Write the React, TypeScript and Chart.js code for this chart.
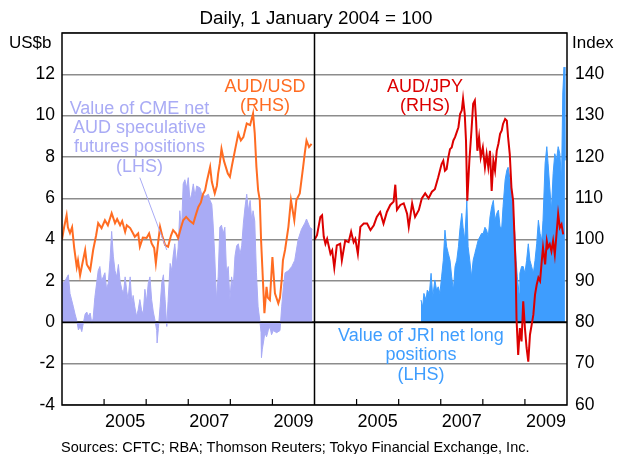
import React, { useEffect, useRef } from "react";
import { Chart, registerables } from "chart.js";

Chart.register(...registerables);

// ---------- DATA ----------
// AUD/USD index (RHS), 1 Jan 2004 = 100
const audUsdDates = [
  2004.00, 2004.05, 2004.11, 2004.14, 2004.19, 2004.24, 2004.29, 2004.35, 2004.38, 2004.43,
  2004.48, 2004.55, 2004.59, 2004.67, 2004.74, 2004.81, 2004.86, 2004.94, 2005.02, 2005.09,
  2005.18, 2005.26, 2005.31, 2005.38, 2005.43, 2005.50, 2005.54, 2005.62, 2005.69, 2005.73,
  2005.81, 2005.85, 2005.92, 2006.01, 2006.07, 2006.13, 2006.19, 2006.23, 2006.28, 2006.33,
  2006.38, 2006.45, 2006.52, 2006.59, 2006.64, 2006.71, 2006.76, 2006.83, 2006.88, 2006.95,
  2007.04, 2007.12, 2007.18, 2007.24, 2007.30, 2007.35, 2007.40, 2007.44, 2007.52, 2007.56,
  2007.63, 2007.68, 2007.71, 2007.75, 2007.79, 2007.85, 2007.91, 2007.94, 2007.99, 2008.04,
  2008.11, 2008.19, 2008.25, 2008.31, 2008.39, 2008.47, 2008.54, 2008.58, 2008.62, 2008.66,
  2008.70, 2008.73, 2008.76, 2008.81, 2008.86, 2008.89, 2008.94, 2009.00, 2009.06, 2009.14,
  2009.18, 2009.22, 2009.25, 2009.30, 2009.38, 2009.44, 2009.52, 2009.57, 2009.65, 2009.73,
  2009.77, 2009.81, 2009.87, 2009.93,
];
const audUsdIndex = [
  100, 103, 105.9, 103, 101.6, 103, 98, 93.4, 95, 91.4,
  94, 97.5, 94, 92.6, 97.5, 101, 104, 102.8, 104.7, 103.5,
  106.4, 104, 105, 103.5, 104.5, 101.9, 103.5, 102.8, 101.5, 100.7,
  101.5, 98.3, 100.5, 100.4, 101.5, 99.1, 98, 94.3, 99, 103.1,
  101, 98.7, 98.3, 101, 102.3, 101.5, 100.4, 103, 104.7, 105.5,
  104.5, 103.9, 106, 107.9, 109, 111, 111.9, 114, 117.6, 114,
  111.2, 113, 116, 118.5, 122, 119, 117, 116, 115.2, 118,
  121.6, 125.7, 124, 124.8, 128.1, 127.7, 130.5, 125.7, 117.6, 112,
  109.6, 100, 93.4, 82.2, 88.6, 86, 85.4, 95.8, 87, 84.6,
  86, 90.2, 95, 97.5, 103.1, 109.6, 104.7, 109.6, 111.2, 117.6,
  121, 124, 122.4, 123.2,
];

// AUD/JPY index (RHS), 1 Jan 2004 = 100
const audJpyDates = [
  2004.00, 2004.06, 2004.14, 2004.18, 2004.22, 2004.26, 2004.30, 2004.38, 2004.42, 2004.47,
  2004.53, 2004.61, 2004.65, 2004.69, 2004.73, 2004.81, 2004.87, 2004.93, 2004.97, 2005.03,
  2005.09, 2005.17, 2005.25, 2005.33, 2005.41, 2005.48, 2005.56, 2005.64, 2005.72, 2005.80,
  2005.88, 2005.92, 2005.96, 2006.04, 2006.12, 2006.20, 2006.24, 2006.32, 2006.39, 2006.48,
  2006.55, 2006.63, 2006.71, 2006.79, 2006.86, 2006.94, 2007.02, 2007.06, 2007.10, 2007.14,
  2007.18, 2007.22, 2007.26, 2007.30, 2007.34, 2007.42, 2007.46, 2007.50, 2007.53, 2007.57,
  2007.60, 2007.63, 2007.68, 2007.73, 2007.77, 2007.81, 2007.84, 2007.87, 2007.91, 2007.95,
  2008.00, 2008.05, 2008.09, 2008.13, 2008.17, 2008.21, 2008.25, 2008.29, 2008.33, 2008.37,
  2008.41, 2008.45, 2008.48, 2008.53, 2008.57, 2008.60, 2008.64, 2008.68, 2008.72, 2008.75,
  2008.78, 2008.80, 2008.84, 2008.88, 2008.92, 2008.96, 2009.00, 2009.04, 2009.08, 2009.12,
  2009.16, 2009.20, 2009.24, 2009.28, 2009.32, 2009.36, 2009.40, 2009.43, 2009.48, 2009.52,
  2009.55, 2009.59, 2009.63, 2009.67, 2009.71, 2009.75, 2009.79, 2009.83, 2009.87, 2009.91,
];
const audJpyIndex = [
  100, 101.1, 105.5, 105.9, 100.7, 99, 100.2, 96.6, 97.4, 93.2,
  98.6, 99, 95, 97.4, 99.8, 99.4, 101.9, 99.4, 100.2, 96.6,
  103.1, 103.9, 103.9, 102.3, 103.5, 105.5, 106.7, 103.9, 106.7, 108.4,
  109.2, 113.3, 107.2, 108.4, 108.8, 106.3, 103.1, 108.8, 105.5, 107.2,
  110, 111.2, 110, 111.6, 112.2, 115.1, 118.3, 119.1, 116.7, 117.1,
  119.9, 121.9, 122.3, 124, 124.8, 127.2, 130.4, 131.3, 134.1, 130.4,
  124, 109.4, 119.1, 126.4, 132.9, 133.7, 128.8, 121.5, 124.8, 119.9,
  122.3, 117.5, 120.7, 117.5, 121.5, 111.8, 119.1, 116.7, 121.5, 123.2,
  125.6, 126.4, 128, 129.2, 128.8, 124.8, 120.7, 112.6, 109.4, 101.3,
  93.2, 81, 72.1, 78.6, 75.4, 85.1, 78.6, 73.8, 70.5, 77,
  79.4, 81.8, 86.7, 89.1, 90.8, 90, 94.8, 98.1, 94, 99.7,
  98.1, 98.9, 97.2, 99.7, 96.4, 101.3, 106.2, 102.9, 103.7, 101.3,
];

// Value of CME net AUD speculative futures positions, US$b (LHS)
const cmeDates = [
  2004.00, 2004.03, 2004.07, 2004.15, 2004.19, 2004.27, 2004.31, 2004.35, 2004.39, 2004.43,
  2004.47, 2004.51, 2004.55, 2004.59, 2004.62, 2004.67, 2004.71, 2004.74, 2004.78, 2004.86,
  2004.90, 2004.94, 2004.98, 2005.02, 2005.06, 2005.10, 2005.14, 2005.18, 2005.22, 2005.26,
  2005.30, 2005.34, 2005.38, 2005.42, 2005.46, 2005.50, 2005.54, 2005.57, 2005.62, 2005.66,
  2005.69, 2005.73, 2005.77, 2005.81, 2005.85, 2005.89, 2005.93, 2005.97, 2006.01, 2006.05,
  2006.09, 2006.13, 2006.17, 2006.21, 2006.25, 2006.26, 2006.29, 2006.33, 2006.37, 2006.41,
  2006.45, 2006.49, 2006.52, 2006.57, 2006.61, 2006.64, 2006.68, 2006.72, 2006.76, 2006.80,
  2006.84, 2006.88, 2006.92, 2006.96, 2007.00, 2007.04, 2007.08, 2007.12, 2007.16, 2007.20,
  2007.28, 2007.32, 2007.40, 2007.48, 2007.52, 2007.56, 2007.59, 2007.63, 2007.67, 2007.71,
  2007.75, 2007.79, 2007.83, 2007.87, 2007.91, 2007.95, 2007.99, 2008.03, 2008.07, 2008.11,
  2008.15, 2008.19, 2008.23, 2008.27, 2008.31, 2008.35, 2008.39, 2008.43, 2008.47, 2008.51,
  2008.54, 2008.58, 2008.62, 2008.66, 2008.70, 2008.73, 2008.74, 2008.76, 2008.80, 2008.82,
  2008.86, 2008.90, 2008.94, 2008.98, 2009.02, 2009.10, 2009.18, 2009.22, 2009.26, 2009.30,
  2009.38, 2009.46, 2009.53, 2009.61, 2009.69, 2009.77, 2009.81, 2009.89, 2009.95,
];
const cmeValues = [
  2.0, 1.9, 2.0, 2.3, 1.4, 0.75, 0.4, 0.1, -0.37, -0.2,
  -0.45, 0.0, 0.4, 0.5, 0.3, 0.45, -0.05, 0.2, 1.2, 2.5,
  2.7, 2.0, 2.2, 2.4, 1.6, 1.9, 3.0, 4.4, 3.2, 2.5,
  2.2, 2.8, 2.0, 1.6, 1.4, 2.2, 1.5, 1.1, 2.2, 0.9,
  1.3, 0.75, 0.3, 0.6, 1.1, 0.6, 0.4, 1.6, 1.0, 1.9,
  2.2, 1.1, 0.5, 0.1, -0.4, -1.0, -0.3, 0.75, 1.9, 2.3,
  1.1, -0.2, 1.0, 2.85, 2.5, 3.2, 3.8, 2.85, 3.6, 5.4,
  4.5, 6.7, 6.9, 6.5, 7.0, 5.9, 6.2, 6.7, 6.1, 6.6,
  6.5, 6.2, 6.1, 6.2, 5.9, 5.7, 4.8, 3.2, 1.1, 2.2,
  4.6, 4.7, 4.3, 4.6, 2.4, 2.7, 1.1, 2.2, 1.7, 3.2,
  3.7, 3.8, 3.3, 3.7, 4.8, 5.6, 6.2, 5.4, 5.9, 4.9,
  5.4, 4.9, 2.4, 0.75, 0.1, -0.5, -1.7, -1.3, -0.8, -0.5,
  -0.7, -0.4, -0.2, -0.6, -0.4, -0.5, -0.4, 0.75, 1.7, 2.4,
  2.5, 2.7, 3.0, 4.0, 4.5, 4.8, 5.0, 4.6, 4.5,
];

// Value of JRI net long positions, US$b (LHS)
const jriDates = [
  2006.53, 2006.57, 2006.60, 2006.65, 2006.68, 2006.73, 2006.77, 2006.81, 2006.86, 2006.90,
  2006.94, 2006.98, 2007.02, 2007.06, 2007.10, 2007.14, 2007.18, 2007.22, 2007.26, 2007.30,
  2007.34, 2007.38, 2007.42, 2007.46, 2007.50, 2007.53, 2007.57, 2007.62, 2007.65, 2007.69,
  2007.73, 2007.77, 2007.81, 2007.85, 2007.89, 2007.93, 2007.97, 2008.01, 2008.05, 2008.09,
  2008.13, 2008.17, 2008.21, 2008.25, 2008.29, 2008.33, 2008.37, 2008.41, 2008.45, 2008.48,
  2008.53, 2008.57, 2008.60, 2008.64, 2008.68, 2008.72, 2008.76, 2008.79, 2008.82, 2008.86,
  2008.88, 2008.92, 2008.96, 2009.00, 2009.04, 2009.08, 2009.12, 2009.16, 2009.20, 2009.24,
  2009.28, 2009.32, 2009.36, 2009.40, 2009.43, 2009.48, 2009.52, 2009.55, 2009.59, 2009.63,
  2009.67, 2009.71, 2009.75, 2009.79, 2009.83, 2009.87, 2009.90, 2009.93, 2009.95,
];
const jriValues = [
  1.08, 0.75, 1.4, 1.08, 1.56, 1.4, 2.37, 1.24, 2.05, 1.56,
  1.72, 1.4, 2.2, 3.0, 4.46, 3.66, 3.33, 3.0, 2.2, 1.56,
  2.7, 3.0, 3.66, 4.6, 5.27, 4.6, 3.98, 5.9, 3.66, 3.0,
  2.2, 3.0, 3.33, 3.66, 3.98, 4.14, 4.3, 4.3, 4.6, 4.46,
  4.14, 5.1, 5.6, 5.9, 4.94, 5.27, 5.43, 4.6, 4.6, 5.6,
  6.9, 7.36, 7.5, 7.0, 6.4, 5.4, 4.3, 3.0, 2.2, 1.4,
  2.37, 2.7, 2.7, 2.37, 3.0, 3.8, 3.0, 2.7, 2.37, 3.0,
  3.8, 4.94, 4.3, 3.98, 4.94, 7.7, 8.5, 7.7, 6.55, 5.43,
  7.2, 8.16, 7.84, 8.5, 8.16, 6.9, 11.1, 12.35, 7.84,
];

// Axis ticks and labels
const yearLabels = [2005, 2007, 2009];
const yearBoundaries = [2005, 2006, 2007, 2008, 2009];
const lhsTicks = [-4, -2, 0, 2, 4, 6, 8, 10, 12];
const rhsTicks = [60, 70, 80, 90, 100, 110, 120, 130, 140];

const PANEL_START = 2004;
const PANEL_YEARS = 6;

const FONT = 'Arial, "Liberation Sans", Helvetica, sans-serif';
const ORANGE = "#FF6C22";
const LAVENDER = "#A9ABF5";
const RED = "#DC0000";
const BLUE = "#3E9DFE";

const leftX = (d: number) => d - PANEL_START;
const rightX = (d: number) => d - PANEL_START + PANEL_YEARS;

const pts = (dates: number[], vals: number[], fx: (d: number) => number) =>
  dates.map((d, i) => ({ x: fx(d), y: vals[i] }));

function drawZero(chart: any) {
  const { ctx, chartArea: a, scales } = chart;
  const y = scales.yL.getPixelForValue(0);
  ctx.save();
  ctx.strokeStyle = "#000";
  ctx.lineWidth = 1.5;
  ctx.beginPath();
  ctx.moveTo(a.left, y);
  ctx.lineTo(a.right, y);
  ctx.stroke();
  ctx.restore();
}

const framePlugin = {
  id: "frame",
  afterDatasetDraw(chart: any, args: any) {
    const ds = chart.data.datasets[args.index];
    if (ds && ds.fill) drawZero(chart);
  },
  afterDraw(chart: any) {
    const { ctx, chartArea: a, scales } = chart;
    ctx.save();
    ctx.strokeStyle = "#000";
    ctx.lineWidth = 1.5;
    ctx.strokeRect(a.left, a.top, a.right - a.left, a.bottom - a.top);
    const xm = scales.x.getPixelForValue(PANEL_YEARS);
    ctx.beginPath();
    ctx.moveTo(xm, a.top);
    ctx.lineTo(xm, a.bottom);
    ctx.stroke();
    // year tick marks (inside)
    ctx.lineWidth = 1.2;
    ctx.beginPath();
    [leftX, rightX].forEach((fx) => {
      yearBoundaries.forEach((b) => {
        const px = scales.x.getPixelForValue(fx(b));
        ctx.moveTo(px, a.bottom);
        ctx.lineTo(px, a.bottom - 6);
      });
    });
    ctx.stroke();
    // pointer for CME label
    ctx.strokeStyle = LAVENDER;
    ctx.lineWidth = 1;
    ctx.beginPath();
    ctx.moveTo(scales.x.getPixelForValue(leftX(2005.85)), scales.yL.getPixelForValue(7.0));
    ctx.lineTo(scales.x.getPixelForValue(leftX(2006.49)), scales.yL.getPixelForValue(3.5));
    ctx.stroke();
    ctx.restore();
  },
};

const labelTicks = [
  ...yearLabels.map((y) => ({ value: leftX(y + 0.5), label: String(y) })),
  ...yearLabels.map((y) => ({ value: rightX(y + 0.5), label: String(y) })),
];

function ChartCanvas() {
  const ref = useRef<HTMLCanvasElement | null>(null);
  useEffect(() => {
    if (!ref.current) return;
    const chart = new Chart(ref.current, {
      type: "line",
      data: {
        datasets: [
          {
            label: "CME",
            data: pts(cmeDates, cmeValues, leftX),
            yAxisID: "yL",
            borderColor: LAVENDER,
            backgroundColor: LAVENDER,
            borderWidth: 1,
            fill: "origin",
            pointRadius: 0,
            tension: 0,
            order: 2,
          },
          {
            label: "JRI",
            data: pts(jriDates, jriValues, rightX),
            yAxisID: "yL",
            borderColor: BLUE,
            backgroundColor: BLUE,
            borderWidth: 1,
            fill: "origin",
            pointRadius: 0,
            tension: 0,
            order: 2,
          },
          {
            label: "AUD/USD",
            data: pts(audUsdDates, audUsdIndex, leftX),
            yAxisID: "yR",
            borderColor: ORANGE,
            borderWidth: 2,
            fill: false,
            pointRadius: 0,
            tension: 0,
            order: 1,
          },
          {
            label: "AUD/JPY",
            data: pts(audJpyDates, audJpyIndex, rightX),
            yAxisID: "yR",
            borderColor: RED,
            borderWidth: 2,
            fill: false,
            pointRadius: 0,
            tension: 0,
            order: 1,
          },
        ],
      },
      options: {
        responsive: false,
        devicePixelRatio: 1,
        animation: false,
        layout: { padding: { top: 33, left: 0, right: 0, bottom: 0 } },
        plugins: { legend: { display: false }, tooltip: { enabled: false } },
        scales: {
          x: {
            type: "linear",
            min: 0,
            max: PANEL_YEARS * 2,
            afterBuildTicks: (s: any) => {
              s.ticks = labelTicks.map((t) => ({ value: t.value }));
            },
            afterFit: (s: any) => {
              s.height = 49;
            },
            ticks: {
              autoSkip: false,
              maxRotation: 0,
              padding: 6,
              color: "#000",
              font: { family: FONT, size: 18 },
              callback: (_v: any, i: number) => labelTicks[i].label,
            },
            grid: { display: false, drawTicks: false },
            border: { display: false },
          },
          yL: {
            position: "left",
            min: -4,
            max: 14,
            afterBuildTicks: (s: any) => {
              s.ticks = [...lhsTicks, 14].map((v) => ({ value: v }));
            },
            afterFit: (s: any) => {
              s.width = 62;
            },
            ticks: {
              padding: 7,
              color: "#000",
              font: { family: FONT, size: 17.5 },
              callback: (v: any) => (lhsTicks.includes(v) ? String(v) : ""),
            },
            grid: {
              drawTicks: false,
              color: "#8c8c8c",
              lineWidth: 1.5,
            },
            border: { display: false },
          },
          yR: {
            position: "right",
            min: 60,
            max: 150,
            afterBuildTicks: (s: any) => {
              s.ticks = [...rhsTicks, 150].map((v) => ({ value: v }));
            },
            afterFit: (s: any) => {
              s.width = 50;
            },
            ticks: {
              padding: 8,
              color: "#000",
              font: { family: FONT, size: 17.5 },
              callback: (v: any) => (rhsTicks.includes(v) ? String(v) : ""),
            },
            grid: { drawOnChartArea: false, drawTicks: false },
            border: { display: false },
          },
        },
      },
      plugins: [framePlugin],
    } as any);
    return () => chart.destroy();
  }, []);
  return (
    <canvas
      ref={ref}
      width={617}
      height={454}
      style={{ position: "absolute", left: 0, top: 0, width: 617, height: 454 }}
    />
  );
}

function Label(props: {
  x: number;
  y: number;
  color: string;
  size: number;
  lh: number;
  lines: string[];
  align?: "center" | "left";
}) {
  const { x, y, color, size, lh, lines, align = "center" } = props;
  return (
    <div
      style={{
        position: "absolute",
        left: x,
        top: y,
        transform: align === "center" ? "translateX(-50%)" : undefined,
        color,
        fontSize: size,
        lineHeight: lh + "px",
        textAlign: align,
        whiteSpace: "nowrap",
        fontFamily: FONT,
      }}
    >
      {lines.map((l, i) => (
        <div key={i}>{l}</div>
      ))}
    </div>
  );
}

export default function App() {
  return (
    <div
      style={{
        position: "fixed",
        left: 0,
        top: 0,
        width: 617,
        height: 454,
        background: "#fff",
        overflow: "hidden",
      }}
    >
      <ChartCanvas />
      <Label x={316} y={8} color="#000" size={18.8} lh={20} lines={["Daily, 1 January 2004 = 100"]} />
      <Label x={9} y={33} color="#000" size={17} lh={20} lines={["US$b"]} align="left" />
      <Label x={572} y={33} color="#000" size={17} lh={20} lines={["Index"]} align="left" />
      <Label x={265} y={76.5} color={ORANGE} size={18} lh={19} lines={["AUD/USD", "(RHS)"]} />
      <Label
        x={139.5}
        y={98.5}
        color={LAVENDER}
        size={18}
        lh={19.4}
        lines={["Value of CME net", "AUD speculative", "futures positions", "(LHS)"]}
      />
      <Label x={425} y={76.5} color={RED} size={18} lh={19} lines={["AUD/JPY", "(RHS)"]} />
      <Label
        x={421}
        y={325.5}
        color={BLUE}
        size={18}
        lh={19.7}
        lines={["Value of JRI net long", "positions", "(LHS)"]}
      />
      <Label
        x={61}
        y={439}
        color="#000"
        size={14.5}
        lh={16}
        lines={["Sources: CFTC; RBA; Thomson Reuters; Tokyo Financial Exchange, Inc."]}
        align="left"
      />
    </div>
  );
}
